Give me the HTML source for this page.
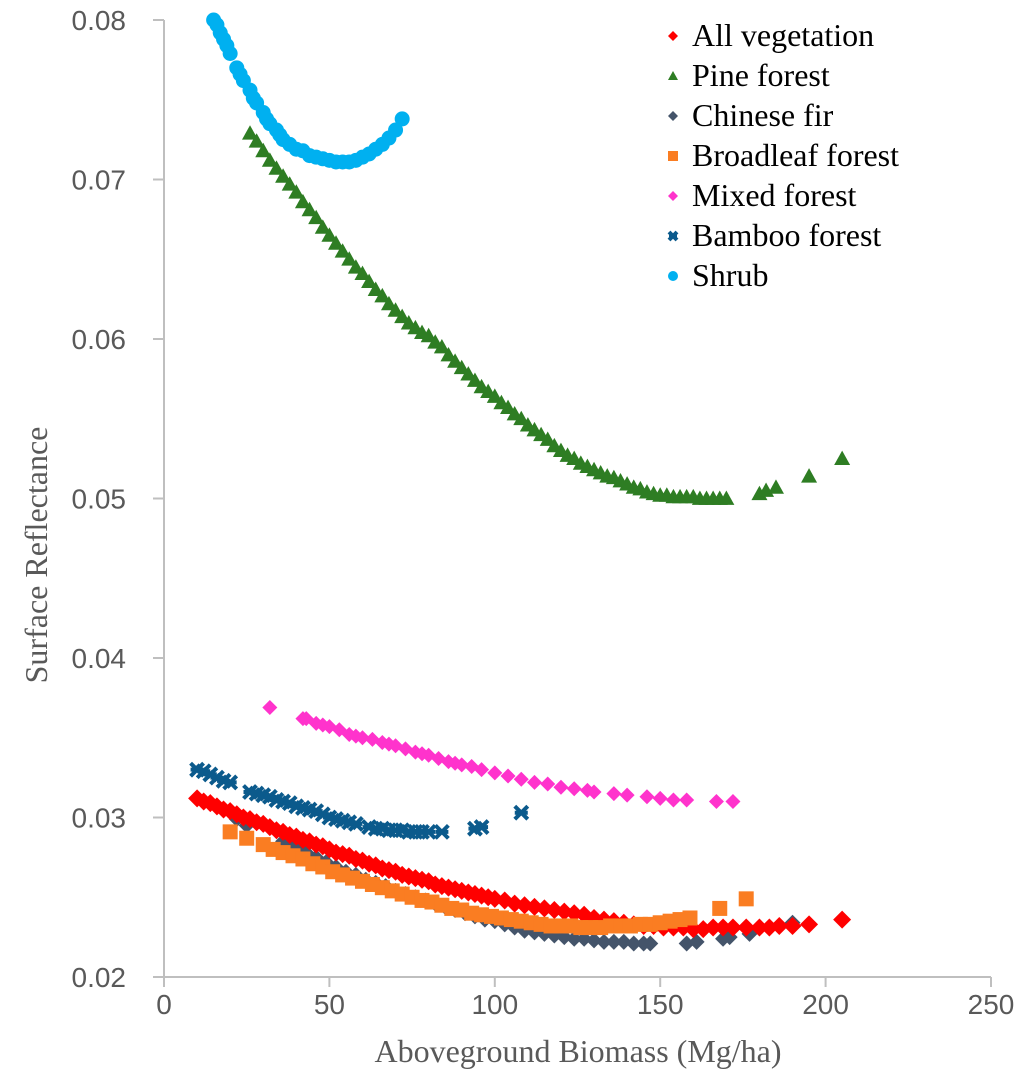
<!DOCTYPE html>
<html><head><meta charset="utf-8"><style>
body{margin:0;background:#fff}
svg{display:block}
.tick{font-family:"Liberation Sans",sans-serif;font-size:28px;fill:#595959}
.title{font-family:"Liberation Serif",serif;font-size:32px;fill:#595959}
.leg{font-family:"Liberation Serif",serif;font-size:32px;fill:#000}
</style></head><body>
<svg id="chart" width="1024" height="1091" viewBox="0 0 1024 1091" xmlns="http://www.w3.org/2000/svg"></svg>
<script>
const xTicks=[0,50,100,150,200,250];
const yTicks=[0.02,0.03,0.04,0.05,0.06,0.07,0.08];
const yTickLabels=["0.02","0.03","0.04","0.05","0.06","0.07","0.08"];
const seriesNames=["All vegetation","Pine forest","Chinese fir","Broadleaf forest","Mixed forest","Bamboo forest","Shrub"];
const shrubX=[15,16,17,18,19,20,22,23,24,26,27,28,30,31,32,34,35,36,38,40,42,44,46,48,50,52,54,56,58,60,62,64,66,68,70,72];
const shrubY=[.0800,.0797,.0792,.0788,.0784,.0779,.0770,.0766,.0762,.0756,.0751,.0748,.0742,.0738,.0735,.0731,.0728,.0725,.0722,.0719,.0718,.0715,.0714,.0713,.0712,.0711,.0711,.0711,.0712,.0714,.0716,.0719,.0722,.0726,.0731,.0738];
const pineX=[26,28,30,32,34,36,38,40,42,44,46,48,50,52,54,56,58,60,62,64,66,68,70,72,74,76,78,80,82,84,86,88,90,92,94,96,98,100,102,104,106,108,110,112,114,116,118,120,122,124,126,128,130,132,134,136,138,140,142,144,146,148,150,152,154,156,158,160,162,164,166,168,170,180,182,185,195,205];
const pineY=[.0729,.0724,.0718,.0712,.0707,.0702,.0697,.0692,.0686,.0681,.0676,.0670,.0665,.0660,.0655,.0650,.0645,.0641,.0636,.0631,.0627,.0622,.0618,.0614,.0610,.0607,.0604,.0602,.0598,.0595,.0590,.0586,.0582,.0578,.0574,.0570,.0567,.0564,.0560,.0557,.0553,.0550,.0546,.0543,.0540,.0537,.0533,.0530,.0527,.0525,.0522,.0520,.0518,.0516,.0514,.0513,.0511,.0509,.0507,.0506,.0504,.0503,.0502,.0502,.0501,.0501,.0501,.0501,.0500,.0500,.0500,.0500,.0500,.0503,.0505,.0507,.0514,.0525];
const mixedX=[32,42,43,46,48,50,53,56,58,60,63,66,68,70,73,76,78,80,83,86,88,90,93,96,100,104,108,112,116,120,124,128,130,136,140,146,150,154,158,167,172];
const mixedY=[.0369,.0362,.0362,.0359,.0358,.0357,.0355,.0352,.0351,.0350,.0349,.0347,.0346,.0345,.0343,.0341,.0340,.0339,.0337,.0335,.0334,.0333,.0332,.0330,.0328,.0326,.0324,.0322,.0321,.0319,.0318,.0317,.0316,.0315,.0314,.0313,.0312,.0311,.0311,.0310,.0310];
const bambooX=[10,12,14,16,18,20,26,28,30,32,34,36,38,40,42,44,46,48,50,52,54,56,58,62,64,66,68,70,72,74,76,78,80,84,94,96,108];
const bambooY=[.0330,.0329,.0327,.0325,.0323,.0322,.0316,.0315,.0314,.0313,.0311,.0310,.0309,.0307,.0306,.0305,.0304,.0302,.0300,.0299,.0298,.0297,.0296,.0294,.0293,.0293,.0292,.0292,.0292,.0291,.0291,.0291,.0291,.0291,.0293,.0294,.0303];
const firX=[22,25,36,38,40,43,46,49,52,55,58,61,64,67,70,73,76,79,82,85,88,91,94,97,100,103,106,109,112,115,118,121,124,127,130,133,136,139,142,145,147,158,161,169,171,177,190];
const firY=[.0299,.0295,.0285,.0283,.0281,.0278,.0275,.0272,.0269,.0266,.0264,.0261,.0259,.0257,.0254,.0252,.0250,.0248,.0246,.0244,.0242,.0240,.0238,.0236,.0235,.0233,.0231,.0229,.0228,.0227,.0226,.0225,.0224,.0224,.0223,.0222,.0222,.0222,.0221,.0221,.0221,.0221,.0222,.0224,.0225,.0227,.0234];
const broadX=[20,25,30,33,36,39,42,45,48,51,54,57,60,63,66,69,72,75,78,81,84,87,90,93,96,99,102,105,108,111,114,117,120,123,126,129,132,135,138,141,144,147,150,153,156,159,168,176];
const broadY=[.0291,.0287,.0283,.0280,.0278,.0276,.0274,.0271,.0269,.0266,.0264,.0262,.0260,.0258,.0256,.0254,.0252,.0250,.0248,.0247,.0245,.0243,.0242,.0240,.0239,.0238,.0237,.0236,.0235,.0234,.0233,.0232,.0232,.0232,.0231,.0231,.0231,.0232,.0232,.0232,.0233,.0233,.0234,.0235,.0236,.0237,.0243,.0249];
const allX=[10,12,14,16,18,20,22,24,26,28,30,32,34,36,38,40,42,44,46,48,50,52,54,56,58,60,62,64,66,68,70,72,74,76,78,80,82,84,86,88,90,92,94,96,98,100,103,106,109,112,115,118,121,124,127,130,133,136,139,142,145,148,151,154,157,160,163,166,169,172,176,180,183,186,190,195,205];
const allY=[.0312,.0310,.0309,.0307,.0305,.0304,.0302,.0300,.0299,.0297,.0296,.0294,.0292,.0291,.0289,.0288,.0286,.0285,.0283,.0282,.0280,.0278,.0277,.0276,.0274,.0273,.0271,.0270,.0268,.0267,.0266,.0264,.0263,.0262,.0261,.0260,.0258,.0257,.0256,.0255,.0254,.0253,.0252,.0251,.0250,.0249,.0248,.0246,.0245,.0244,.0243,.0242,.0241,.0240,.0239,.0237,.0236,.0235,.0234,.0233,.0232,.0232,.0231,.0231,.0231,.0230,.0230,.0231,.0231,.0231,.0231,.0231,.0231,.0232,.0232,.0233,.0236];

const NS="http://www.w3.org/2000/svg";
const svg=document.getElementById('chart');
const X0=164,X1=991,Y0=977,Y1=20;
function xs(v){return X0+(v-0)/(250-0)*(X1-X0);}
function ys(v){return Y0-(v-0.02)/(0.08-0.02)*(Y0-Y1);}
function mk(tag,at){const e=document.createElementNS(NS,tag);for(const k in at)e.setAttribute(k,at[k]);svg.appendChild(e);return e;}

let ax=mk('path',{d:`M${X0} ${Y1}V${Y0}H${X1}`,stroke:'#bfbfbf','stroke-width':2,fill:'none'});


yTicks.forEach((t,i)=>{
  let l=mk('line',{x1:X0-11,x2:X0,y1:ys(t),y2:ys(t),stroke:'#bfbfbf','stroke-width':2});
  
  
  let tx=mk('text',{x:X0-38,y:ys(t)+10,'text-anchor':'end',class:'tick'});
  tx.textContent=yTickLabels[i];
  
  
});
xTicks.forEach(t=>{
  let l=mk('line',{x1:xs(t),x2:xs(t),y1:Y0,y2:Y0+10,stroke:'#bfbfbf','stroke-width':2});
  
  
  let tx=mk('text',{x:xs(t),y:Y0+37,'text-anchor':'middle',class:'tick'});
  tx.textContent=String(t);
  
  
});
let xt=mk('text',{x:578,y:1062,'text-anchor':'middle',class:'title'});
xt.textContent='Aboveground Biomass (Mg/ha)';


let yt=mk('text',{x:0,y:0,'text-anchor':'middle',class:'title',transform:'translate(47,555) rotate(-90)'});
yt.textContent='Surface Reflectance';



function marker(type,x,y,s,color){
  let e;
  if(type==='diamond')e=mk('path',{d:`M${x} ${y-s}L${x+s} ${y}L${x} ${y+s}L${x-s} ${y}Z`,fill:color});
  else if(type==='tri')e=mk('path',{d:`M${x} ${y-s}L${x+s} ${y+s*0.8}L${x-s} ${y+s*0.8}Z`,fill:color});
  else if(type==='square')e=mk('rect',{x:x-s,y:y-s,width:2*s,height:2*s,fill:color});
  else if(type==='circle')e=mk('circle',{cx:x,cy:y,r:s,fill:color});
  else e=mk('path',{d:`M${x-s} ${y-s}L${x+s} ${y+s}M${x+s} ${y-s}L${x-s} ${y+s}M${x-s} ${y}H${x+s}`,stroke:color,'stroke-width':4,fill:'none'});
  return e;
}
const series=[
 {x:pineX,y:pineY,t:'tri',s:8,c:'#2e7d23',n:'pine-forest'},
 {x:shrubX,y:shrubY,t:'circle',s:7.5,c:'#00b0f0',n:'shrub'},
 {x:mixedX,y:mixedY,t:'diamond',s:7.5,c:'#ff33cc',n:'mixed-forest'},
 {x:bambooX,y:bambooY,t:'star',s:6.5,c:'#0b5a8c',n:'bamboo-forest'},
 {x:firX,y:firY,t:'diamond',s:8,c:'#44546a',n:'chinese-fir'},
 {x:allX,y:allY,t:'diamond',s:9,c:'#ff0000',n:'all-vegetation'},
 {x:broadX,y:broadY,t:'square',s:7.5,c:'#fa7d22',n:'broadleaf-forest'}
];
series.forEach(S=>{
  S.x.forEach((v,i)=>{
    const e=marker(S.t,xs(v),ys(S.y[i]),S.s,S.c);
    
    
  });
});
const legT=['diamond','tri','diamond','square','diamond','star','circle'];
const legC=['#ff0000','#2e7d23','#44546a','#fa7d22','#ff33cc','#0b5a8c','#00b0f0'];
seriesNames.forEach((nm,i)=>{
  const cy=36+i*40;
  const m=marker(legT[i],673,cy,legT[i]==='star'?4:5,legC[i]);
  
  
  const t=mk('text',{x:692,y:cy+10,class:'leg'});
  t.textContent=nm;
  
  
});
</script>
</body></html>
